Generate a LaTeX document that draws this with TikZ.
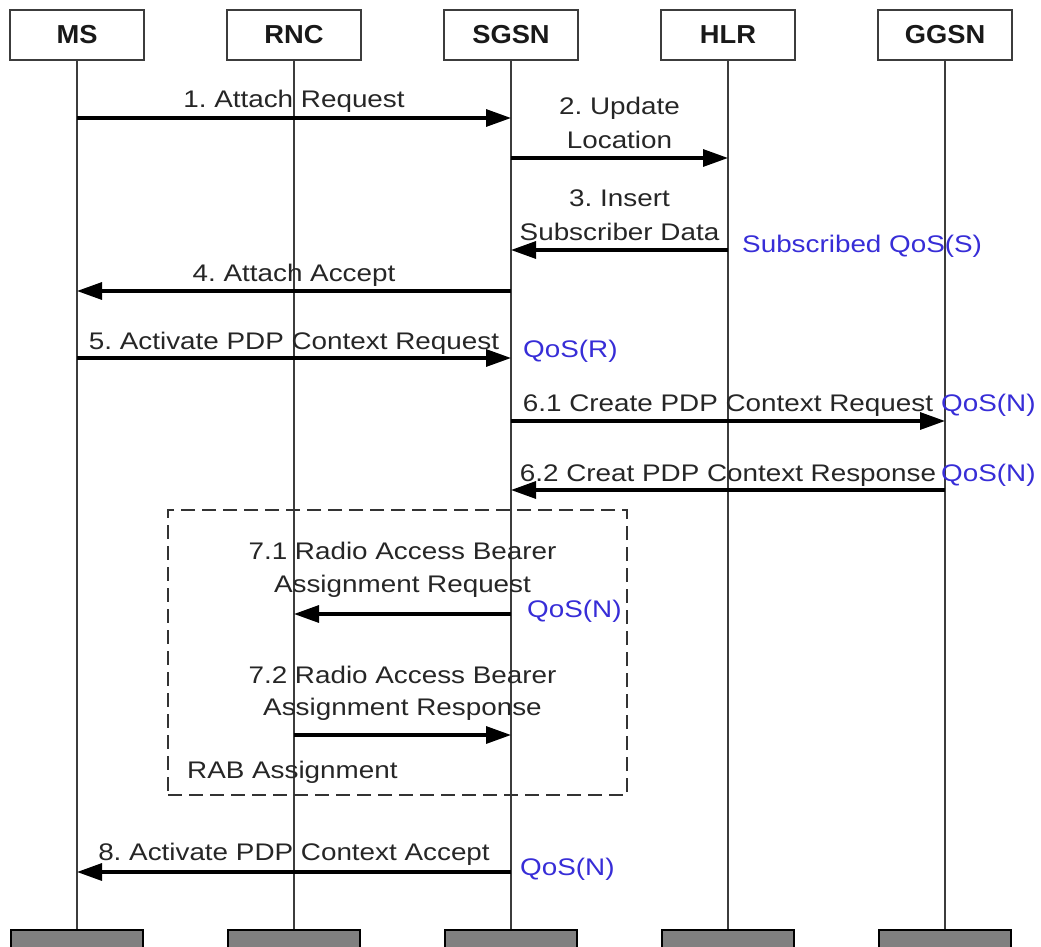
\documentclass[tikz,border=0pt]{standalone}
\usepackage{fontspec}
\setmainfont{Liberation Sans}[FakeStretch=1.16]
\newfontfamily\headfont{Liberation Sans}[FakeStretch=1.05]
\usetikzlibrary{arrows.meta}

\definecolor{qosblue}{RGB}{55,45,215}
\definecolor{lifegray}{RGB}{60,60,60}
\definecolor{boxgray}{RGB}{128,128,128}
\definecolor{txtgray}{RGB}{38,38,38}

\begin{document}
\frenchspacing
\begin{tikzpicture}[x=1pt,y=-1pt,
  entity/.style={draw=lifegray, line width=1.6pt, fill=white,
    minimum width=134pt, minimum height=50pt, inner sep=0pt,
    font=\headfont\bfseries\fontsize{26}{28}\selectfont, text=black!90},
  foot/.style={draw=black, line width=2.4pt, fill=boxgray,
    minimum width=132pt, minimum height=30pt, anchor=north, inner sep=0pt},
  lifeline/.style={draw=lifegray, line width=1.8pt},
  msg/.style={draw=black, line width=3.2pt, -{Triangle[length=25pt,width=17pt]}},
  lbl/.style={anchor=base, inner sep=0pt, text=txtgray,
    font=\fontsize{24}{28}\selectfont},
  qos/.style={anchor=base west, inner sep=0pt, text=qosblue,
    font=\fontsize{24}{28}\selectfont},
  group/.style={draw=black!80, line width=1.8pt, dash pattern=on 14pt off 7pt,
    minimum width=459pt, minimum height=285pt, inner sep=0pt}
]
\useasboundingbox (0,0) rectangle (1041,947);

% entities
\node[entity] (ms)   at (77,35)  {MS};
\node[entity] (rnc)  at (294,35) {RNC};
\node[entity] (sgsn) at (511,35) {SGSN};
\node[entity] (hlr)  at (728,35) {HLR};
\node[entity] (ggsn) at (945,35) {GGSN};

% lifeline feet
\node[foot] (msb)   at (77,929)  {};
\node[foot] (rncb)  at (294,929) {};
\node[foot] (sgsnb) at (511,929) {};
\node[foot] (hlrb)  at (728,929) {};
\node[foot] (ggsnb) at (945,929) {};

% lifelines
\draw[lifeline] (ms.south)   -- (msb.north);
\draw[lifeline] (rnc.south)  -- (rncb.north);
\draw[lifeline] (sgsn.south) -- (sgsnb.north);
\draw[lifeline] (hlr.south)  -- (hlrb.north);
\draw[lifeline] (ggsn.south) -- (ggsnb.north);

% RAB assignment group
\node[group] (rab) at (397.5,652.5) {};
\node[lbl, anchor=base west] (rabl) at (187,778) {RAB Assignment};

% message rows
\coordinate (r1)  at (0,118);
\coordinate (r2)  at (0,158);
\coordinate (r3)  at (0,250);
\coordinate (r4)  at (0,291);
\coordinate (r5)  at (0,358);
\coordinate (r61) at (0,421);
\coordinate (r62) at (0,490);
\coordinate (r71) at (0,614);
\coordinate (r72) at (0,735);
\coordinate (r8)  at (0,872);

% messages
\draw[msg] (ms |- r1)    -- (sgsn |- r1);
\draw[msg] (sgsn |- r2)  -- (hlr |- r2);
\draw[msg] (hlr |- r3)   -- (sgsn |- r3);
\draw[msg] (sgsn |- r4)  -- (ms |- r4);
\draw[msg] (ms |- r5)    -- (sgsn |- r5);
\draw[msg] (sgsn |- r61) -- (ggsn |- r61);
\draw[msg] (ggsn |- r62) -- (sgsn |- r62);
\draw[msg] (sgsn |- r71) -- (rnc |- r71);
\draw[msg] (rnc |- r72)  -- (sgsn |- r72);
\draw[msg] (sgsn |- r8)  -- (ms |- r8);

% message labels
\node[lbl] (t1)  at (294,108)   {1. Attach Request};
\node[lbl] (t2a) at (619.5,115) {2. Update};
\node[lbl] (t2b) at (619.5,148) {Location};
\node[lbl] (t3a) at (619.5,206) {3. Insert};
\node[lbl] (t3b) at (619.5,240) {Subscriber Data};
\node[lbl] (t4)  at (294,281)   {4. Attach Accept};
\node[lbl] (t5)  at (294,349)   {5. Activate PDP Context Request};
\node[lbl] (t61) at (728,411)   {6.1 Create PDP Context Request};
\node[lbl] (t62) at (728,481)   {6.2 Creat PDP Context Response};
\node[lbl] (t7a) at (402.5,559) {7.1 Radio Access Bearer};
\node[lbl] (t7b) at (402.5,592) {Assignment Request};
\node[lbl] (t8a) at (402.5,683) {7.2 Radio Access Bearer};
\node[lbl] (t8b) at (402.5,715) {Assignment Response};
\node[lbl] (t9)  at (294,860)   {8. Activate PDP Context Accept};

% QoS annotations
\node[qos] (q1) at (742,252) {Subscribed QoS(S)};
\node[qos] (q2) at (523,357) {QoS(R)};
\node[qos] (q3) at (941,411) {QoS(N)};
\node[qos] (q4) at (941,481) {QoS(N)};
\node[qos] (q5) at (527,617) {QoS(N)};
\node[qos] (q6) at (520,875) {QoS(N)};
\end{tikzpicture}
\end{document}
